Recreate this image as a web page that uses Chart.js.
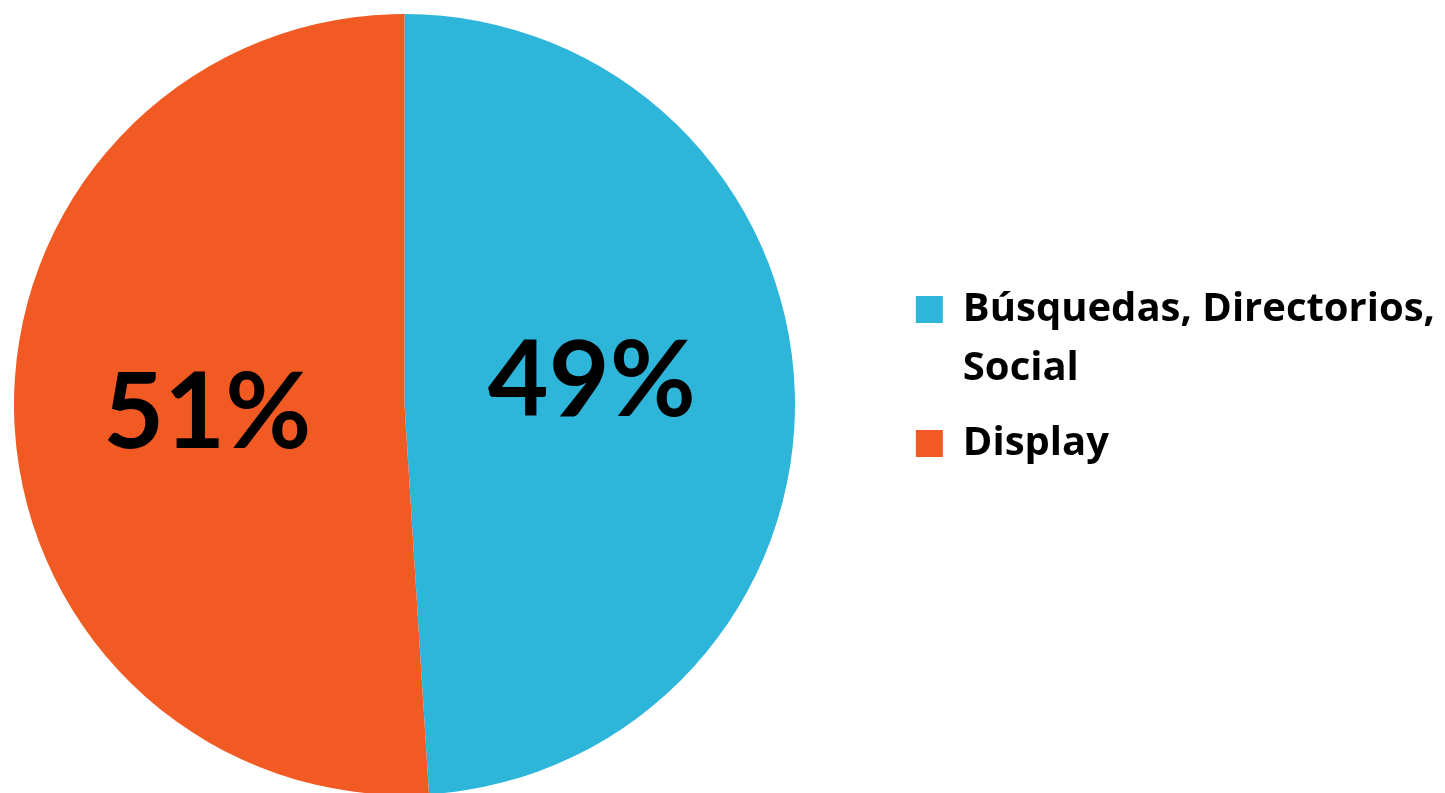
<!DOCTYPE html>
<html>
<head>
<meta charset="utf-8">
<script src="https://cdn.jsdelivr.net/npm/chart.js@4.4.1/dist/chart.umd.min.js"></script>
<style>
  html, body { margin: 0; padding: 0; background: #ffffff; }
  #wrap { width: 1445px; height: 793px; position: relative; }
</style>
</head>
<body>
<div id="wrap"><canvas id="chart" width="1445" height="793"></canvas></div>
<script>
// Share of spend by channel
const categories = [['Búsquedas, Directorios,', 'Social'], 'Display'];
const shares = [49, 51];
const valueLabels = ['49%', '51%'];
const sliceColors = ['#2EB6DA', '#F15A22'];

// Keeps the pie in a fixed square on the left, independent of the legend width
const pieBox = {
  id: 'pieBox',
  afterLayout(chart) {
    const a = chart.chartArea;
    a.left = 14; a.top = 14; a.right = 795; a.bottom = 795;
    a.width = a.right - a.left;
    a.height = a.bottom - a.top;
  }
};

// Draws the percentage in the middle of each slice
const sliceLabels = {
  id: 'sliceLabels',
  afterDatasetsDraw(chart) {
    const { ctx } = chart;
    const meta = chart.getDatasetMeta(0);
    const nudges = [[-4, -16], [-6, 4]];
    ctx.save();
    ctx.fillStyle = '#000000';
    ctx.font = 'bold 105px Lato';
    ctx.textAlign = 'center';
    ctx.textBaseline = 'middle';
    meta.data.forEach((arc, i) => {
      const mid = (arc.startAngle + arc.endAngle) / 2;
      const r = arc.outerRadius * 0.49;
      const x = arc.x + Math.cos(mid) * r + nudges[i][0];
      const y = arc.y + Math.sin(mid) * r + nudges[i][1];
      ctx.fillText(valueLabels[i], x, y);
    });
    ctx.restore();
  }
};

new Chart(document.getElementById('chart'), {
  type: 'pie',
  data: {
    labels: categories,
    datasets: [{
      data: shares,
      backgroundColor: sliceColors,
      borderWidth: 0,
      clip: false
    }]
  },
  options: {
    responsive: false,
    animation: false,
    layout: { padding: { left: 0, top: 0, bottom: 40, right: 0 } },
    plugins: {
      tooltip: { enabled: false },
      legend: {
        position: 'right',
        labels: {
          color: '#000000',
          boxWidth: 27,
          boxHeight: 27,
          padding: 16,
          font: { family: 'Open Sans', weight: 'bold', size: 40, lineHeight: 1.475 }
        }
      }
    }
  },
  plugins: [pieBox, sliceLabels]
});
</script>
</body>
</html>
